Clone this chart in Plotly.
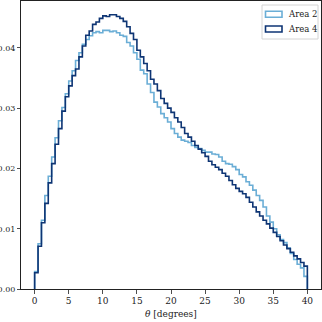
import plotly.graph_objects as go

# Histogram densities per 0.5-degree bin from 0 to 40 degrees (80 bins)
bin_width = 0.5
theta_min = 0.0
area2 = [
    0.0029, 0.0075, 0.0114, 0.0155, 0.0187, 0.0219, 0.0251, 0.0279, 0.0301, 0.0324,
    0.0345, 0.0362, 0.0379, 0.0392, 0.0406, 0.0414, 0.0420, 0.0425, 0.0427, 0.0425,
    0.0429, 0.0429, 0.0427, 0.0428, 0.0425, 0.0421, 0.0419, 0.0409, 0.0403, 0.0392,
    0.0381, 0.0363, 0.0357, 0.0340, 0.0326, 0.0310, 0.0302, 0.0291, 0.0284, 0.0277,
    0.0266, 0.0258, 0.0252, 0.0247, 0.0245, 0.0243, 0.0238, 0.0235, 0.0233, 0.0230,
    0.0227, 0.0227, 0.0224, 0.0223, 0.0219, 0.0212, 0.0208, 0.0207, 0.0203, 0.0198,
    0.0190, 0.0186, 0.0178, 0.0172, 0.0164, 0.0155, 0.0147, 0.0136, 0.0121, 0.0111,
    0.0100, 0.0090, 0.0082, 0.0077, 0.0068, 0.0059, 0.0049, 0.0041, 0.0035, 0.0021,
]
area4 = [
    0.0027, 0.0071, 0.0110, 0.0142, 0.0176, 0.0208, 0.0240, 0.0266, 0.0295, 0.0319,
    0.0337, 0.0354, 0.0365, 0.0385, 0.0403, 0.0421, 0.0428, 0.0439, 0.0443, 0.0449,
    0.0453, 0.0452, 0.0455, 0.0455, 0.0452, 0.0449, 0.0444, 0.0435, 0.0424, 0.0414,
    0.0396, 0.0385, 0.0374, 0.0362, 0.0348, 0.0340, 0.0329, 0.0316, 0.0308, 0.0300,
    0.0293, 0.0284, 0.0277, 0.0268, 0.0258, 0.0252, 0.0245, 0.0238, 0.0232, 0.0226,
    0.0220, 0.0212, 0.0206, 0.0202, 0.0198, 0.0192, 0.0187, 0.0180, 0.0173, 0.0167,
    0.0162, 0.0158, 0.0152, 0.0144, 0.0136, 0.0128, 0.0121, 0.0114, 0.0108, 0.0101,
    0.0094, 0.0087, 0.0080, 0.0073, 0.0067, 0.0061, 0.0055, 0.0050, 0.0044, 0.0038,
]
series_names = ["Area 2", "Area 4"]
series_colors = ["#6baed6", "#0e3574"]
x_ticks = [0, 5, 10, 15, 20, 25, 30, 35, 40]
y_ticks = [0.00, 0.01, 0.02, 0.03, 0.04]
x_title = "<i>θ</i> [degrees]"
FONT = "DejaVu Serif"

W, H = 322, 322
ML, MR, MT, MB = 21, 1, 1, 33
PW, PH = W - ML - MR, H - MT - MB


def px_x(px):
    return (px - ML) / PW


def px_y(py):
    return (H - MB - py) / PH


def step_xy(vals):
    edges = [theta_min + i * bin_width for i in range(len(vals) + 1)]
    xs = [edges[0]] + edges[:-1] + [edges[-1], edges[-1]]
    ys = [0.0] + list(vals) + [vals[-1], 0.0]
    return xs, ys


fig = go.Figure()
for name, vals, col in zip(series_names, [area2, area4], series_colors):
    xs, ys = step_xy(vals)
    fig.add_trace(go.Scatter(x=xs, y=ys, mode="lines", name=name,
                             line=dict(color=col, width=1.6, shape="hv"),
                             showlegend=False, hoverinfo="skip"))

# manual matplotlib-like legend
shapes = [dict(type="rect", xref="paper", yref="paper",
               x0=px_x(262), x1=px_x(318), y0=px_y(39), y1=px_y(5),
               fillcolor="rgba(255,255,255,0.9)", line=dict(color="#d4d4d4", width=1), layer="above")]
annotations = []
for i, (name, col) in enumerate(zip(series_names, series_colors)):
    cy = 14.3 + i * 14.7
    shapes.append(dict(type="rect", xref="paper", yref="paper",
                       x0=px_x(265.5), x1=px_x(282), y0=px_y(cy + 3), y1=px_y(cy - 3),
                       fillcolor="rgba(255,255,255,0)", line=dict(color=col, width=1.6), layer="above"))
    annotations.append(dict(text=name, xref="paper", yref="paper", x=px_x(286), y=px_y(cy),
                            xanchor="left", yanchor="middle", showarrow=False,
                            font=dict(family=FONT, size=8.5, color="#222")))
annotations.append(dict(text=x_title, xref="paper", yref="paper", x=0.5, y=0,
                        xanchor="center", yanchor="top", yshift=-18, showarrow=False,
                        font=dict(family=FONT, size=9, color="#222")))

ymax = max(max(area2), max(area4)) * 1.05
fig.update_layout(
    width=W, height=H,
    margin=dict(l=ML, r=MR, t=MT, b=MB, autoexpand=False),
    paper_bgcolor="white", plot_bgcolor="white",
    font=dict(family=FONT, size=9, color="#222"),
    showlegend=False,
    shapes=shapes, annotations=annotations,
    xaxis=dict(range=[-2, 42], tickvals=x_ticks, ticktext=[str(t) for t in x_ticks],
               ticks="outside", ticklen=3.5, tickwidth=0.8, tickcolor="#222",
               tickfont=dict(family=FONT, size=9),
               showline=True, linecolor="#222", linewidth=1, mirror=True,
               showgrid=False, zeroline=False, automargin=False),
    yaxis=dict(range=[0, ymax], tickvals=y_ticks, ticktext=[f"{t:.2f}" for t in y_ticks],
               ticks="outside", ticklen=3, tickwidth=0.8, tickcolor="#222",
               tickfont=dict(family=FONT, size=8),
               showline=True, linecolor="#222", linewidth=1, mirror=True,
               showgrid=False, zeroline=False, automargin=False),
)
fig.write_html("out.html", config={"displayModeBar": False, "staticPlot": True},
               post_script="document.body.style.margin='0';document.body.style.overflow='hidden';")
